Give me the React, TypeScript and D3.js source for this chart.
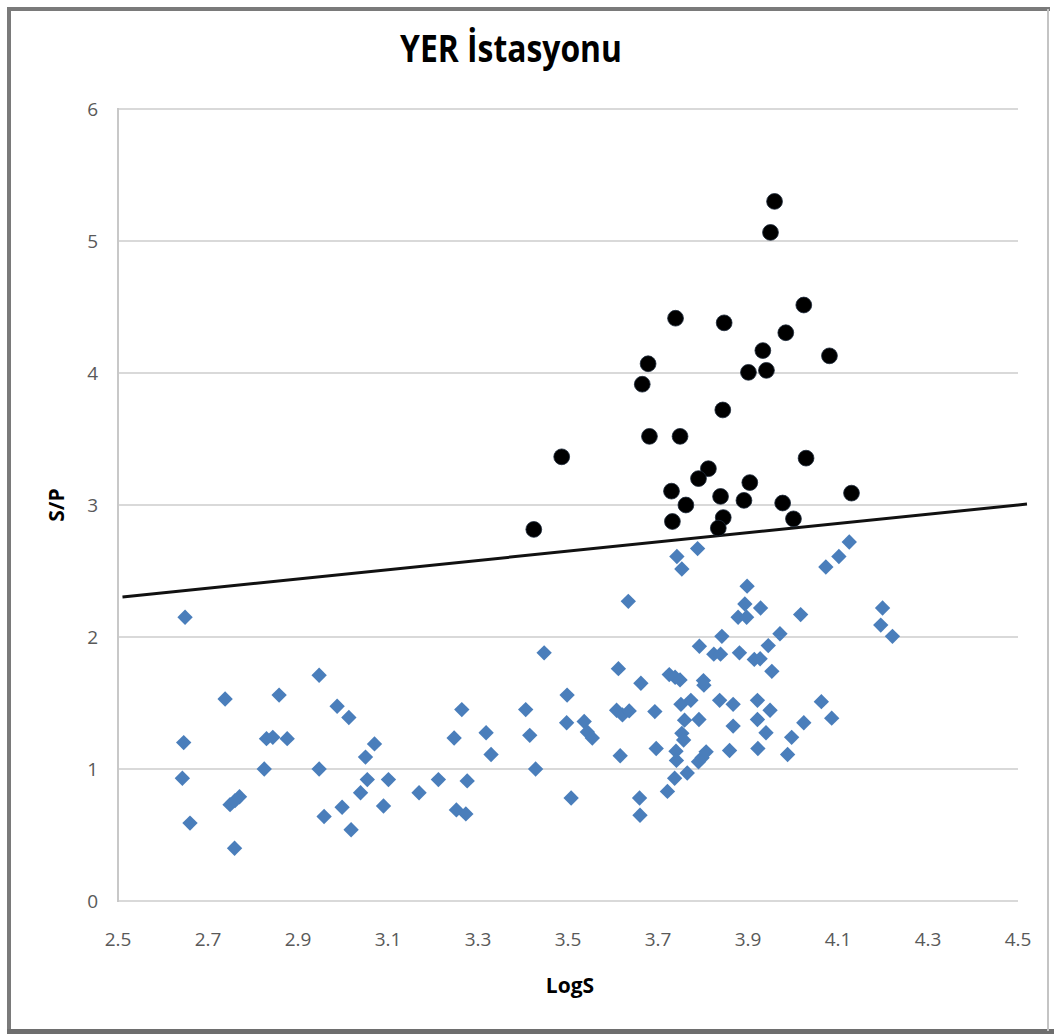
import React, { useEffect } from "react";
import * as d3 from "d3";

// LogS / S/P pairs below the separating line (blue diamonds)
const blueLogS = [
  2.649, 2.947, 2.738, 2.858, 2.987, 3.013, 2.646, 2.83, 2.844, 2.876, 3.07, 3.05,
  2.643, 2.825, 2.947, 3.054, 3.101, 3.212, 2.77, 2.749, 2.76, 3.039, 3.169, 2.66,
  2.958, 2.998, 3.09, 3.018, 2.759, 3.264, 3.247, 3.318, 3.329, 3.276, 3.252, 3.273,
  3.406, 3.415, 3.428, 3.447, 3.498, 3.497, 3.536, 3.543, 3.554, 3.507, 3.612, 3.662,
  3.634, 3.608, 3.621, 3.636, 3.693, 3.616, 3.696, 3.659, 3.66, 3.721, 3.737, 3.765,
  3.742, 3.753, 3.788, 3.725, 3.738, 3.749, 3.751, 3.773, 3.759, 3.753, 3.757, 3.74,
  3.741, 3.791, 3.792, 3.801, 3.802, 3.79, 3.798, 3.807, 3.842, 3.824, 3.839, 3.881,
  3.837, 3.867, 3.867, 3.859, 3.898, 3.893, 3.878, 3.897, 4.073, 4.102, 4.125, 3.928,
  4.017, 4.199, 4.195, 4.221, 3.914, 3.927, 3.945, 3.971, 3.953, 3.921, 3.949, 4.063,
  4.086, 4.024, 3.921, 3.94, 3.997, 3.988, 3.922,
];
const blueSP = [
  2.15, 1.71, 1.53, 1.56, 1.475, 1.39, 1.2, 1.23, 1.24, 1.23, 1.19, 1.09,
  0.93, 1.0, 1.0, 0.92, 0.92, 0.92, 0.79, 0.73, 0.76, 0.82, 0.82, 0.59,
  0.64, 0.71, 0.72, 0.54, 0.4, 1.45, 1.235, 1.275, 1.11, 0.91, 0.69, 0.66,
  1.45, 1.255, 1.0, 1.88, 1.56, 1.35, 1.36, 1.28, 1.235, 0.78, 1.76, 1.65,
  2.27, 1.445, 1.41, 1.44, 1.435, 1.1, 1.155, 0.78, 0.65, 0.83, 0.93, 0.97,
  2.61, 2.515, 2.67, 1.715, 1.695, 1.675, 1.49, 1.52, 1.37, 1.27, 1.22, 1.135,
  1.065, 1.375, 1.93, 1.67, 1.635, 1.055, 1.085, 1.13, 2.005, 1.87, 1.87, 1.88,
  1.52, 1.49, 1.325, 1.14, 2.385, 2.25, 2.15, 2.15, 2.53, 2.61, 2.72, 2.22,
  2.17, 2.22, 2.09, 2.005, 1.83, 1.835, 1.935, 2.025, 1.74, 1.52, 1.445, 1.51,
  1.385, 1.35, 1.375, 1.275, 1.24, 1.11, 1.155,
];

// LogS / S/P pairs above the separating line (black circles)
const blackLogS = [
  3.959, 3.95, 4.024, 3.739, 3.847, 3.984, 3.933, 3.678, 4.081, 3.665, 3.901, 3.941,
  3.844, 3.681, 3.749, 3.486, 4.029, 3.812, 3.79, 3.904, 3.73, 3.839, 3.891, 3.977,
  4.13, 3.762, 3.732, 3.845, 4.001, 3.834, 3.424,
];
const blackSP = [
  5.3, 5.065, 4.515, 4.415, 4.38, 4.305, 4.17, 4.07, 4.13, 3.915, 4.005, 4.02,
  3.72, 3.52, 3.52, 3.365, 3.355, 3.275, 3.2, 3.17, 3.105, 3.065, 3.035, 3.015,
  3.09, 3.0, 2.875, 2.905, 2.895, 2.825, 2.815,
];

// Separating line end points
const lineLogS = [2.51, 4.52];
const lineSP = [2.3035, 3.007];

const xTicks = [2.5, 2.7, 2.9, 3.1, 3.3, 3.5, 3.7, 3.9, 4.1, 4.3, 4.5];
const yTicks = [0, 1, 2, 3, 4, 5, 6];

const titleText = "YER İstasyonu";
const xLabel = "LogS";
const yLabel = "S/P";

const W = 1054;
const H = 1034;
const FONT = "'Open Sans', 'Noto Sans', sans-serif";

export default function App() {
  useEffect(() => {
    document.body.style.margin = "0";
    document.body.style.overflow = "hidden";
  }, []);

  const x = d3.scaleLinear().domain([2.5, 4.5]).range([118, 1018]);
  const y = d3.scaleLinear().domain([0, 6]).range([901, 109]);

  const diamond = d3.symbol().type(d3.symbolSquare).size(118)() as string;
  const circle = d3.symbol().type(d3.symbolCircle).size(196)() as string;

  const line = d3
    .line<number>()
    .x((_, i) => x(lineLogS[i]))
    .y((_, i) => y(lineSP[i]));

  return (
    <svg
      width={W}
      height={H}
      style={{ position: "absolute", left: 0, top: 0, background: "#fff" }}
    >
      {/* outer frame */}
      <rect x={0} y={0} width={W} height={H} fill="#fff" />
      <rect x={7} y={7} width={1043} height={4} fill="#7a7a7a" />
      <rect x={7} y={7} width={4} height={1025} fill="#7a7a7a" />
      <rect x={7} y={1029} width={1047} height={5} fill="#6e6e6e" />
      <rect x={1047} y={9} width={2} height={1022} fill="#c4c4c4" />

      {/* title */}
      <text
        x={511}
        y={62}
        textAnchor="middle"
        fontFamily={FONT}
        fontWeight={700}
        fontSize={37}
        textLength={222}
        lengthAdjust="spacingAndGlyphs"
        fill="#000"
      >
        {titleText}
      </text>

      {/* horizontal gridlines */}
      {yTicks.map((t) => (
        <line
          key={"g" + t}
          x1={x(2.5)}
          x2={x(4.5)}
          y1={y(t)}
          y2={y(t)}
          stroke="#d9d9d9"
          strokeWidth={2}
        />
      ))}
      {/* vertical axis line */}
      <line x1={x(2.5)} x2={x(2.5)} y1={y(6) - 1} y2={y(0) + 1} stroke="#c8c8c8" strokeWidth={2} />

      {/* y tick labels */}
      {yTicks.map((t) => (
        <text
          key={"yl" + t}
          x={98}
          y={y(t) + 7}
          textAnchor="end"
          fontFamily={FONT}
          fontSize={19}
          fill="#595959"
        >
          {t}
        </text>
      ))}

      {/* x tick labels */}
      {xTicks.map((t) => (
        <text
          key={"xl" + t}
          x={x(t)}
          y={946}
          textAnchor="middle"
          fontFamily={FONT}
          fontSize={19}
          fill="#595959"
        >
          {t.toFixed(1)}
        </text>
      ))}

      {/* axis titles */}
      <text
        x={x(3.5) + 2}
        y={993}
        textAnchor="middle"
        fontFamily={FONT}
        fontWeight={700}
        fontSize={21}
        fill="#000"
      >
        {xLabel}
      </text>
      <text
        transform={`translate(64,505) rotate(-90)`}
        textAnchor="middle"
        fontFamily={FONT}
        fontWeight={700}
        fontSize={21}
        fill="#000"
      >
        {yLabel}
      </text>

      {/* blue diamonds */}
      {blueLogS.map((v, i) => (
        <path
          key={"b" + i}
          d={diamond}
          transform={`translate(${x(v)},${y(blueSP[i])}) rotate(45)`}
          fill="#4a7ebb"
        />
      ))}

      {/* separating line */}
      <path d={line(lineLogS) || ""} fill="none" stroke="#111" strokeWidth={3} />

      {/* black circles */}
      {blackLogS.map((v, i) => (
        <path
          key={"k" + i}
          d={circle}
          transform={`translate(${x(v)},${y(blackSP[i])})`}
          fill="#000"
          stroke="#1d2a3a"
          strokeWidth={0.8}
        />
      ))}
    </svg>
  );
}
